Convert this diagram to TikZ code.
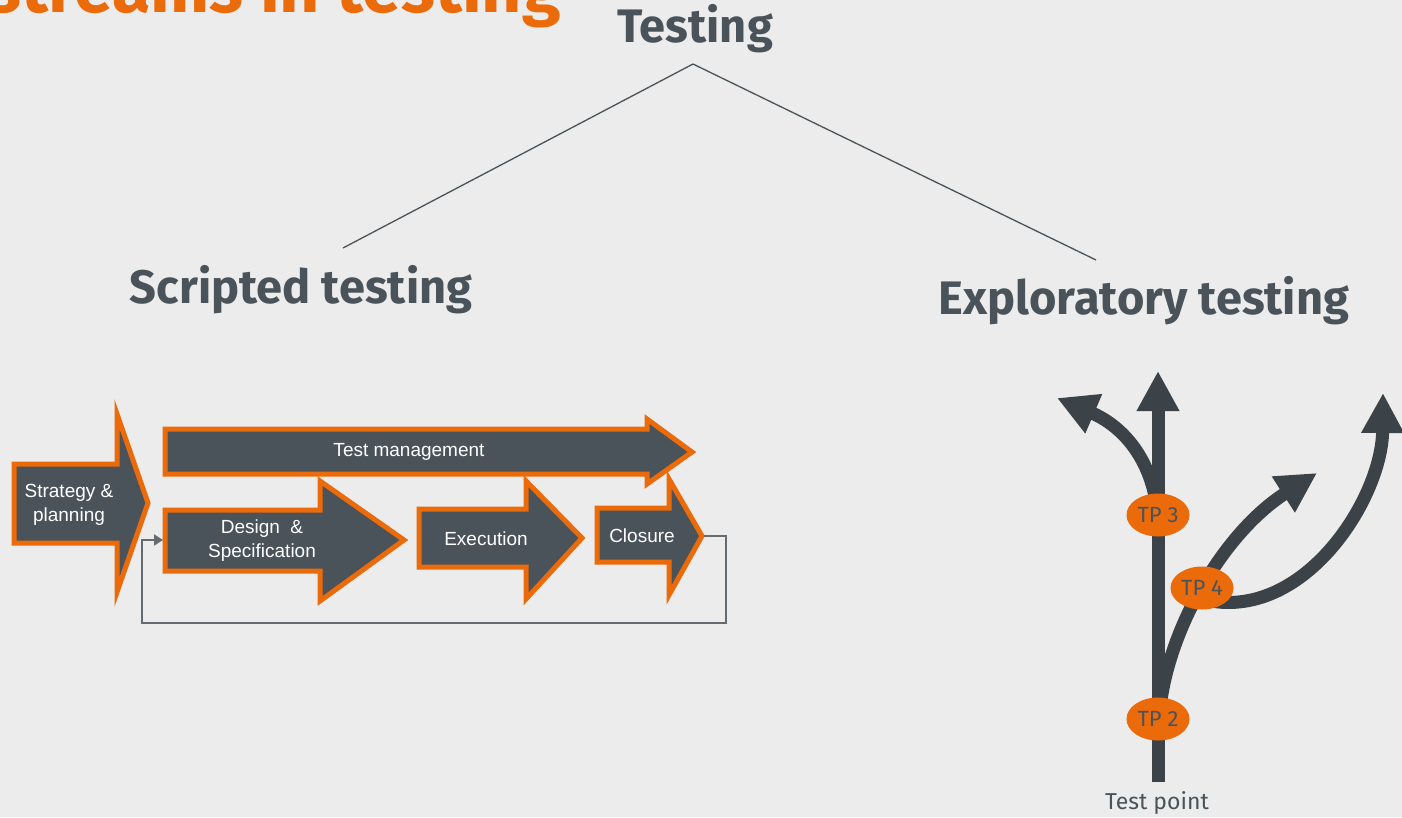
\documentclass[tikz,border=0pt]{standalone}
\usepackage{fontspec}
\setmainfont{Fira Sans}
\newfontfamily\boxfont{Liberation Sans}
\usepackage{xcolor}
\usetikzlibrary{arrows.meta,positioning,shapes.geometric}

\definecolor{bgcolor}{HTML}{EBECEB}
\definecolor{headgray}{HTML}{4A535A}
\definecolor{boxgray}{HTML}{4A535A}
\definecolor{pathgray}{HTML}{3B4348}
\definecolor{loopgray}{HTML}{646B71}
\definecolor{tporange}{HTML}{EB6A0A}

\tikzset{
  heading/.style={font=\bfseries\fontsize{47}{47}\selectfont, text=headgray, inner sep=0pt},
  treeline/.style={draw=headgray, line width=1.3pt},
  stagebox/.style={fill=boxgray, draw=tporange, line width=5pt, line join=miter},
  stagetext/.style={font=\boxfont\fontsize{19}{24}\selectfont, text=white, align=center, inner sep=0pt},
  loopline/.style={draw=loopgray, line width=2pt, -{Triangle[width=11pt,length=9pt]}},
  pathline/.style={draw=pathgray, line width=13pt, -{Triangle[width=40pt,length=40pt]}},
  tpmark/.style={ellipse, fill=tporange, minimum width=63pt, minimum height=43pt, inner sep=0pt,
    text=headgray, font=\fontsize{22}{22}\selectfont}
}

\begin{document}
\begin{tikzpicture}[x=1pt, y=-1pt]
    % page and background
    \useasboundingbox (0,0) rectangle (1402,817);
    \fill[bgcolor] (0,0) rectangle (1402,817);

    % Cut-off slide title
    \begin{scope}
      \clip (0,0) rectangle (1402,817);
      \node[anchor=base east, font=\bfseries\fontsize{70}{70}\selectfont, text=tporange, inner sep=0pt]
        (title) at (561,12) {streams in testing};
    \end{scope}

    % Headings
    \node[heading, anchor=base] (testing) at (695,42) {Testing};
    \node[heading, anchor=base] (scripted) at (301,303) {Scripted testing};
    \node[heading, anchor=base] (exploratory) at (1144,314) {Exploratory testing};

    % Tree lines
    \coordinate (apex) at (693,64);
    \coordinate (scriptedtop) at (343,248);
    \coordinate (exploratorytop) at (1096,260);
    \draw[treeline] (scriptedtop) -- (apex) -- (exploratorytop);

    % Scripted testing: stage arrows
    \draw[stagebox] (14,464) -- (117,464) -- (117,414) -- (148,503) -- (117,592) -- (117,543) -- (14,543) -- cycle;
    \draw[stagebox] (165,429) -- (647,429) -- (647,419) -- (692,452) -- (647,484) -- (647,474) -- (165,474) -- cycle;
    \draw[stagebox] (165,510) -- (320,510) -- (320,481) -- (404,540) -- (320,601) -- (320,571) -- (165,571) -- cycle;
    \draw[stagebox] (419,509) -- (526,509) -- (526,481) -- (582,538) -- (526,599) -- (526,567) -- (419,567) -- cycle;
    \draw[stagebox] (597,508) -- (669,508) -- (669,479) -- (702,536) -- (669,595) -- (669,562) -- (597,562) -- cycle;

    \node[stagetext] (strategy) at (69,505) {Strategy \&\\planning};
    \node[stagetext] (management) at (409,452) {Test management};
    \node[stagetext] (design) at (262,541) {Design~~\&\\Specification};
    \node[stagetext] (execution) at (486,539) {Execution};
    \node[stagetext] (closure) at (642,536) {Closure};

    % Feedback loop from closure back to design
    \coordinate (closuretip) at (704,536);
    \coordinate (designin) at (163,540);
    \draw[loopline] (closuretip) -- (726,536) -- (726,623) -- (142,623) -- (142,540) -- (designin);

    % Exploratory testing: branching paths
    \coordinate (stem) at (1158,782);
    \coordinate (uptip) at (1158,371);
    \coordinate (lefttip) at (1057,398);
    \coordinate (midtip) at (1317,473);
    \coordinate (righttip) at (1383,393);
    \draw[pathline] (stem) -- (uptip);
    \draw[pathline] (1157,508) .. controls (1150,455) and (1120,425) .. (lefttip);
    \draw[pathline] (1159,722) .. controls (1162,640) and (1220,535) .. (midtip);
    \draw[pathline] (1198,598) .. controls (1300,628) and (1382,500) .. (righttip);

    % Test points
    \node[tpmark] (tp3) at (1158,515) {TP 3};
    \node[tpmark] (tp4) at (1202,588) {TP 4};
    \node[tpmark] (tp2) at (1158,719) {TP 2};
    \node[text=headgray, font=\fontsize{23}{23}\selectfont, inner sep=0pt] (testpoint) at (1157,803) {Test point};
\end{tikzpicture}
\end{document}
